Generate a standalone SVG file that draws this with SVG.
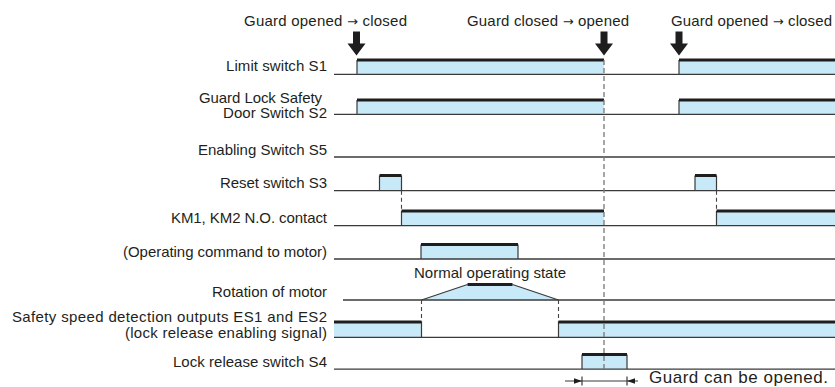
<svg xmlns="http://www.w3.org/2000/svg" width="835" height="387" viewBox="0 0 835 387">
<defs>
<style>
text{font-family:"Liberation Sans",Arial,sans-serif;font-size:15px;fill:#231f20}
.lbl{text-anchor:end}
.arr{font-family:"DejaVu Sans",sans-serif;font-size:13px}
.base{stroke:#3a3a3a;stroke-width:1.3;fill:none}
.hi{fill:#c8e9f8;stroke:none}
.top{stroke:#1e1e1e;stroke-width:3;fill:none}
.edge{stroke:#3a3a3a;stroke-width:1.2;fill:none}
.dash{stroke:#777;stroke-width:1.3;stroke-dasharray:5 3;fill:none}
.dashs{stroke:#444;stroke-width:1.1;stroke-dasharray:4 3;fill:none}
.big{fill:#1e1e1e}
</style>
<path id="bigArrow" d="M-3.5,-24 H3.5 V-12 H9 L0,0 L-9,-12 H-3.5 Z"/>
</defs>
<rect width="835" height="387" fill="#fff"/>

<g id="events">
<text x="244" y="26" textLength="163" lengthAdjust="spacing">Guard opened <tspan class="arr">→</tspan> closed</text>
<text x="467" y="26" textLength="162" lengthAdjust="spacing">Guard closed <tspan class="arr">→</tspan> opened</text>
<text x="671" y="26" textLength="161" lengthAdjust="spacing">Guard opened <tspan class="arr">→</tspan> closed</text>
<use href="#bigArrow" x="356.5" y="55.5" class="big"/>
<use href="#bigArrow" x="604" y="55.5" class="big"/>
<use href="#bigArrow" x="679" y="55.5" class="big"/>
</g>

<g id="s1">
<text class="lbl" x="327" y="71" textLength="101" lengthAdjust="spacing">Limit switch S1</text>
<rect class="hi" x="357" y="60" width="247" height="14"/>
<rect class="hi" x="679" y="60" width="156" height="14"/>
<path class="base" d="M334,74.3 H835"/>
<path class="edge" d="M357,74 V60"/>
<path class="edge" d="M679,74 V60"/>
<path class="top" d="M357,60 H604 M679,60 H835"/>
</g>

<g id="s2">
<text class="lbl" x="322" y="102.5" textLength="123" lengthAdjust="spacing">Guard Lock Safety</text>
<text class="lbl" x="327" y="118" textLength="104" lengthAdjust="spacing">Door Switch S2</text>
<rect class="hi" x="357" y="100" width="247" height="14"/>
<rect class="hi" x="679" y="100" width="156" height="14"/>
<path class="base" d="M334,114.3 H835"/>
<path class="edge" d="M357,114 V100"/>
<path class="edge" d="M679,114 V100"/>
<path class="top" d="M357,100 H604 M679,100 H835"/>
</g>

<g id="s5">
<text class="lbl" x="327" y="155" textLength="129" lengthAdjust="spacing">Enabling Switch S5</text>
<path class="base" d="M334,157 H835"/>
</g>

<g id="s3">
<text class="lbl" x="327" y="188" textLength="107" lengthAdjust="spacing">Reset switch S3</text>
<rect class="hi" x="379.5" y="175.5" width="22" height="15"/>
<rect class="hi" x="695" y="175.5" width="21.5" height="15"/>
<path class="base" d="M334,190.7 H835"/>
<path class="edge" d="M379.5,190.7 V175.5 M401.5,175.5 V190.7 M695,190.7 V175.5 M716.5,175.5 V190.7"/>
<path class="top" d="M379.5,175.5 H401.5 M695,175.5 H716.5"/>
</g>

<g id="km">
<text class="lbl" x="327" y="223" textLength="156" lengthAdjust="spacing">KM1, KM2 N.O. contact</text>
<rect class="hi" x="401.5" y="211" width="202.5" height="14.7"/>
<rect class="hi" x="716.5" y="211" width="118.5" height="14.7"/>
<path class="base" d="M334,225.7 H835"/>
<path class="edge" d="M401.5,225.7 V211 M716.5,225.7 V211"/>
<path class="top" d="M401.5,211 H604 M716.5,211 H835"/>
</g>

<g id="cmd">
<text class="lbl" x="327" y="256.5" textLength="204" lengthAdjust="spacing">(Operating command to motor)</text>
<rect class="hi" x="421" y="244.5" width="97" height="14.5"/>
<path class="base" d="M334,259 H835"/>
<path class="edge" d="M421,259 V244.5 M518,244.5 V259"/>
<path class="top" d="M421,244.5 H518"/>
</g>

<g id="rot">
<text class="lbl" x="327" y="297" textLength="115" lengthAdjust="spacing">Rotation of motor</text>
<text x="414" y="278" textLength="152" lengthAdjust="spacing">Normal operating state</text>
<polygon class="hi" points="421.5,300 467.5,284.5 512.5,284.5 558.5,300"/>
<path class="base" d="M343,300 H835"/>
<path class="edge" d="M421.5,300 L467.5,284.5 M512.5,284.5 L558.5,300"/>
<path class="top" d="M467.5,284.5 H512.5"/>
</g>

<g id="es">
<text class="lbl" x="327" y="322" textLength="315" lengthAdjust="spacing">Safety speed detection outputs ES1 and ES2</text>
<text class="lbl" x="327" y="338" textLength="202" lengthAdjust="spacing">(lock release enabling signal)</text>
<rect class="hi" x="334" y="322" width="87.5" height="15.3"/>
<rect class="hi" x="558.5" y="322" width="276.5" height="15.3"/>
<path class="base" d="M334,337.3 H835"/>
<path class="edge" d="M421.5,322 V337.3 M558.5,322 V337.3"/>
<path class="top" d="M334,322 H421.5 M558.5,322 H835"/>
</g>

<g id="s4">
<text class="lbl" x="327" y="367" textLength="154" lengthAdjust="spacing">Lock release switch S4</text>
<rect class="hi" x="582" y="354.5" width="45" height="14.5"/>
<path class="base" d="M334,369.2 H835"/>
<path class="edge" d="M582,369 V354.5 M627,354.5 V369"/>
<path class="top" d="M582,354.5 H627"/>
</g>

<g id="connectors">
<path class="dash" d="M604,60 V372"/>
<path class="dashs" d="M401.5,190.7 V211 M716.5,190.7 V211 M421.5,300 V322 M558.5,300 V322"/>
</g>

<g id="dimension">
<path class="edge" d="M565,381 H638 M582,376.5 V385.5 M627,376.5 V385.5"/>
<path class="big" d="M582,381 L574,378.3 V383.7 Z M627,381 L635,378.3 V383.7 Z"/>
<text x="649" y="383" style="font-size:17px" textLength="179" lengthAdjust="spacing">Guard can be opened.</text>
</g>
</svg>
